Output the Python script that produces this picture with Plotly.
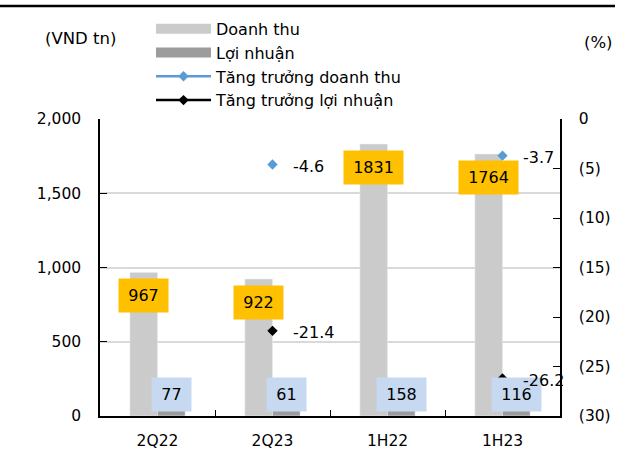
import plotly.graph_objects as go

categories = ['2Q22', '2Q23', '1H22', '1H23']
revenue = [967, 922, 1831, 1764]
profit = [77, 61, 158, 116]
revenue_growth = [None, -4.6, None, -3.7]
profit_growth = [None, -21.4, None, -26.2]
y_ticks = [0, 500, 1000, 1500, 2000]
y2_ticks = [0, -5, -10, -15, -20, -25, -30]
y2_ticktext = ['0', '(5)', '(10)', '(15)', '(20)', '(25)', '(30)']

FONT = 'DejaVu Sans'
REV_COLOR = '#CBCBCB'
PROF_COLOR = '#9C9C9C'
BLUE = '#5B9BD5'
GOLD = '#FFC000'
LBLUE = '#C6D9F1'

fig = go.Figure()

fig.add_trace(go.Bar(x=categories, y=revenue, name='Doanh thu', marker_color=REV_COLOR,
                     legendgroup='rev', showlegend=False, yaxis='y'))
fig.add_trace(go.Bar(x=categories, y=profit, name='Lợi nhuận', marker_color=PROF_COLOR,
                     legendgroup='prof', showlegend=False, yaxis='y'))
# legend proxies for the bars (wide thin patches)
fig.add_trace(go.Scatter(x=[None], y=[None], mode='lines', name='Doanh thu',
                         line=dict(color=REV_COLOR, width=10), legendgroup='rev'))
fig.add_trace(go.Scatter(x=[None], y=[None], mode='lines', name='Lợi nhuận',
                         line=dict(color=PROF_COLOR, width=10), legendgroup='prof'))
fig.add_trace(go.Scatter(x=categories, y=revenue_growth, mode='lines+markers',
                         name='Tăng trưởng doanh thu', yaxis='y2',
                         line=dict(color=BLUE, width=2.5),
                         marker=dict(symbol='diamond', size=8, color=BLUE),
                         legendgroup='rg'))
fig.add_trace(go.Scatter(x=categories, y=profit_growth, mode='lines+markers',
                         name='Tăng trưởng lợi nhuận', yaxis='y2',
                         line=dict(color='black', width=2.5),
                         marker=dict(symbol='diamond', size=8, color='black'),
                         legendgroup='pg'))

annotations = []
for c, v in zip(categories, revenue):
    annotations.append(dict(x=c, y=v, xref='x', yref='y', text=str(v), showarrow=False,
                            xshift=-13.75, yshift=-23, bgcolor=GOLD,
                            width=10 * len(str(v)) + 17, height=31,
                            font=dict(family=FONT, size=16, color='black')))
for c, v in zip(categories, profit):
    annotations.append(dict(x=c, y=0, xref='x', yref='y', text=str(v), showarrow=False,
                            xshift=13.75, yshift=22, bgcolor=LBLUE,
                            width=10 * len(str(v)) + 17, height=31,
                            font=dict(family=FONT, size=16, color='black')))
for series in (revenue_growth, profit_growth):
    for c, v in zip(categories, series):
        if v is None:
            continue
        annotations.append(dict(x=c, y=v, xref='x', yref='y2', text=f'{v:.1f}', showarrow=False,
                                xanchor='left', xshift=18, yshift=-2,
                                font=dict(family=FONT, size=16, color='black')))

annotations.append(dict(x=-0.1239, y=1.2727, xref='paper', yref='paper', text='(VND tn)',
                        showarrow=False, xanchor='left', yanchor='middle',
                        font=dict(family=FONT, size=16.5, color='black')))
annotations.append(dict(x=1.0478, y=1.256, xref='paper', yref='paper', text='(%)',
                        showarrow=False, xanchor='left', yanchor='middle',
                        font=dict(family=FONT, size=16.5, color='black')))

shapes = [dict(type='line', xref='paper', yref='paper', x0=-0.2174, x1=1.1196,
               y0=1.3805, y1=1.3805, line=dict(color='black', width=2.5))]

fig.update_layout(
    width=619, height=457,
    margin=dict(l=100, r=59, t=119, b=41, autoexpand=False),
    paper_bgcolor='white', plot_bgcolor='white',
    font=dict(family=FONT, size=15.5, color='black'),
    barmode='group', bargap=0.52, bargroupgap=0,
    showlegend=True,
    legend=dict(x=0.1109, y=1.361, xanchor='left', yanchor='top',
                font=dict(family=FONT, size=16, color='black'),
                itemwidth=55, traceorder='grouped', tracegroupgap=0,
                bgcolor='rgba(0,0,0,0)', itemclick=False),
    xaxis=dict(type='category', categoryorder='array', categoryarray=categories,
               range=[-0.5, 3.5], showline=True, linecolor='black', linewidth=1.5,
               ticks='inside', tickson='boundaries', ticklen=6, tickcolor='black',
               showgrid=False, ticklabelstandoff=10, automargin=False),
    yaxis=dict(range=[0, 2000], tickvals=y_ticks, tickformat=',', showline=True,
               linecolor='black', linewidth=1.5, ticks='inside', ticklen=7,
               tickcolor='black', gridcolor='#D9D9D9', gridwidth=1.5, zeroline=False,
               ticklabelstandoff=14, automargin=False),
    yaxis2=dict(range=[-30, 0], overlaying='y', side='right', tickvals=y2_ticks,
                ticktext=y2_ticktext, showline=True, linecolor='black', linewidth=1.5,
                ticks='inside', ticklen=7, tickcolor='black', showgrid=False,
                zeroline=False, ticklabelstandoff=14, automargin=False),
    annotations=annotations,
    shapes=shapes,
)

fig.write_html('out.html')
